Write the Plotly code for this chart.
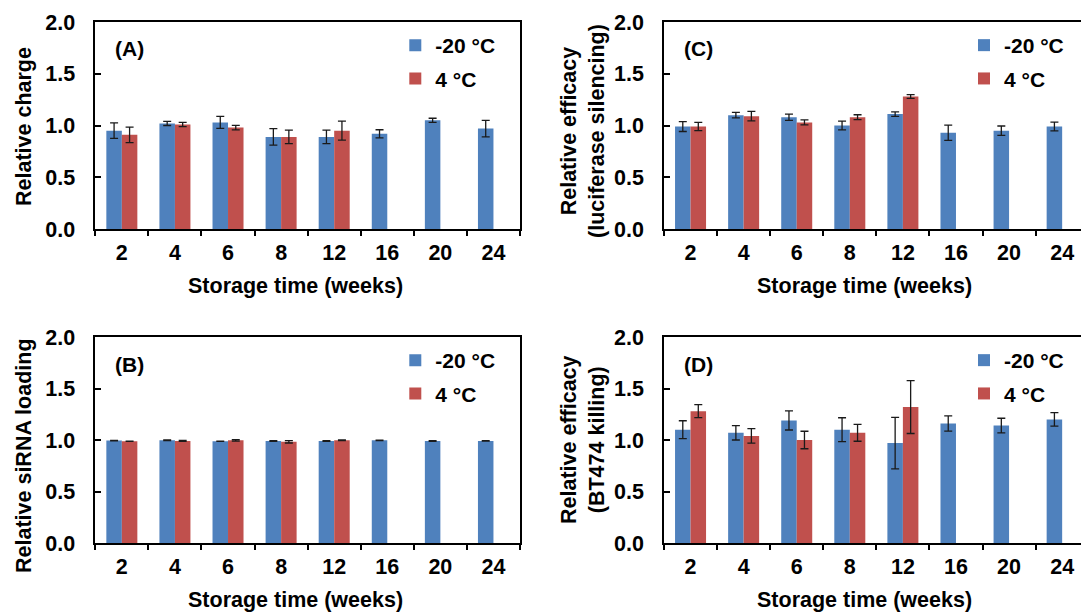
import plotly.graph_objects as go

# Storage time categories (weeks)
weeks = ["2", "4", "6", "8", "12", "16", "20", "24"]

# (A) Relative charge
charge_m20 = [0.95, 1.02, 1.03, 0.89, 0.89, 0.92, 1.05, 0.97]
charge_m20_err = [0.075, 0.02, 0.058, 0.08, 0.066, 0.039, 0.02, 0.08]
charge_p4 = [0.91, 1.01, 0.98, 0.89, 0.95, None, None, None]
charge_p4_err = [0.075, 0.02, 0.022, 0.065, 0.092, None, None, None]

# (B) Relative siRNA loading
loading_m20 = [0.994, 0.997, 0.988, 0.991, 0.991, 0.997, 0.991, 0.991]
loading_m20_err = [0.003, 0.003, 0.002, 0.003, 0.003, 0.002, 0.003, 0.002]
loading_p4 = [0.988, 0.991, 0.997, 0.982, 0.997, None, None, None]
loading_p4_err = [0.002, 0.004, 0.007, 0.011, 0.003, None, None, None]

# (C) Relative efficacy (luciferase silencing)
silencing_m20 = [0.99, 1.10, 1.08, 1.00, 1.11, 0.93, 0.95, 0.99]
silencing_m20_err = [0.048, 0.026, 0.03, 0.042, 0.022, 0.074, 0.045, 0.042]
silencing_p4 = [0.99, 1.09, 1.03, 1.08, 1.28, None, None, None]
silencing_p4_err = [0.04, 0.046, 0.024, 0.024, 0.018, None, None, None]

# (D) Relative efficacy (BT474 killing)
killing_m20 = [1.10, 1.07, 1.19, 1.10, 0.97, 1.16, 1.14, 1.20]
killing_m20_err = [0.087, 0.07, 0.093, 0.116, 0.25, 0.074, 0.071, 0.066]
killing_p4 = [1.28, 1.04, 1.00, 1.07, 1.32, None, None, None]
killing_p4_err = [0.063, 0.07, 0.085, 0.082, 0.257, None, None, None]

series_names = ["-20 °C", "4 °C"]
colors = ["#4F81BD", "#C0504D"]
y_ticks = [0, 0.5, 1.0, 1.5, 2.0]

W, H = 1081, 613
FONT = "Liberation Sans, Arial, sans-serif"
FS = 21.5

# pixel frames of the plot areas: (left, right) and (top, bottom)
LEFT_COL = (95.3, 520.0)
RIGHT_COL = (664.0, 1081.0)
TOP_ROW = (22.0, 229.0)
BOT_ROW = (337.0, 543.0)
CAT_W = (LEFT_COL[1] - LEFT_COL[0]) / len(weeks)


def px_x(v):
    return v / W


def px_y(v):
    return 1 - v / H


def bold(size=FS):
    return dict(family=FONT, size=size, color="black", weight="bold")


panels = [
    dict(ax="", col=LEFT_COL, row=TOP_ROW, label="(A)",
         ytitle="Relative charge", ytitle_xy=(24, 127),
         data=(charge_m20, charge_m20_err, charge_p4, charge_p4_err)),
    dict(ax="2", col=RIGHT_COL, row=TOP_ROW, label="(C)",
         ytitle="Relative efficacy<br>(luciferase silencing)", ytitle_xy=(583, 131),
         data=(silencing_m20, silencing_m20_err, silencing_p4, silencing_p4_err)),
    dict(ax="3", col=LEFT_COL, row=BOT_ROW, label="(B)",
         ytitle="Relative siRNA loading", ytitle_xy=(24, 456),
         data=(loading_m20, loading_m20_err, loading_p4, loading_p4_err)),
    dict(ax="4", col=RIGHT_COL, row=BOT_ROW, label="(D)",
         ytitle="Relative efficacy<br>(BT474 killing)", ytitle_xy=(583, 440),
         data=(killing_m20, killing_m20_err, killing_p4, killing_p4_err)),
]

fig = go.Figure()
layout = dict(
    template="none",
    width=W, height=H, autosize=False,
    margin=dict(l=0, r=0, t=0, b=0, autoexpand=False),
    paper_bgcolor="white", plot_bgcolor="white",
    barmode="group", bargap=0.416, bargroupgap=0,
    font=bold(),
    annotations=[],
)

for i, p in enumerate(panels):
    xa = "x" + p["ax"]
    ya = "y" + p["ax"]
    leg = "legend" + ("" if i == 0 else str(i + 1))
    m20, m20e, p4, p4e = p["data"]
    for k, (vals, errs) in enumerate(((m20, m20e), (p4, p4e))):
        fig.add_trace(go.Bar(
            x=weeks, y=vals, name=series_names[k],
            xaxis=xa, yaxis=ya, legend=leg,
            legendgroup=f"{leg}-{k}",
            marker=dict(color=colors[k], line=dict(width=0)),
            error_y=dict(type="data", array=errs, visible=True,
                         color="#1a1a1a", thickness=1.3, width=4),
        ))

    left, right = p["col"]
    top, bottom = p["row"]
    is_left = left < 300
    xmax = -0.5 + (right - left) / CAT_W

    layout["xaxis" + p["ax"]] = dict(
        domain=[px_x(left), px_x(right)], anchor=ya,
        type="category", range=[-0.5, xmax], automargin=False,
        tickson="boundaries", ticks="outside", ticklen=5, tickwidth=1.5,
        tickcolor="black", showline=True, linecolor="black", linewidth=1.5,
        mirror=True, showgrid=False, zeroline=False,
        tickfont=bold(), ticklabelstandoff=3, fixedrange=True,
    )
    layout["yaxis" + p["ax"]] = dict(
        domain=[px_y(bottom), px_y(top)], anchor=xa, automargin=False,
        range=[0, 2], tickvals=y_ticks, tickformat=".1f",
        ticks="inside", ticklen=6, tickwidth=1.5, tickcolor="black",
        showline=True, linecolor="black", linewidth=1.5,
        mirror=is_left, showgrid=False, zeroline=False,
        tickfont=bold(), ticklabelstandoff=14, fixedrange=True,
    )
    layout[leg] = dict(
        x=px_x(left + 300), y=px_y(top + 3), xanchor="left", yanchor="top",
        bgcolor="rgba(0,0,0,0)", borderwidth=0,
        font=bold(21), tracegroupgap=3, itemwidth=30, traceorder="grouped",
    )

    # panel letter
    layout["annotations"].append(dict(
        xref="paper", yref="paper", x=px_x(left + 18), y=px_y(top + 27),
        xanchor="left", yanchor="middle", showarrow=False, text=p["label"],
        font=bold(21),
    ))
    # y-axis title
    tx, ty = p["ytitle_xy"]
    layout["annotations"].append(dict(
        xref="paper", yref="paper", x=px_x(tx), y=px_y(ty),
        xanchor="center", yanchor="middle", showarrow=False,
        text=p["ytitle"], textangle=-90, font=bold(),
    ))
    # x-axis title
    layout["annotations"].append(dict(
        xref="paper", yref="paper",
        x=px_x(left + 4 * CAT_W - 12), y=px_y(bottom + 57),
        xanchor="center", yanchor="middle", showarrow=False,
        text="Storage time (weeks)", font=bold(),
    ))

fig.update_layout(**layout)
fig.write_html("out.html")
